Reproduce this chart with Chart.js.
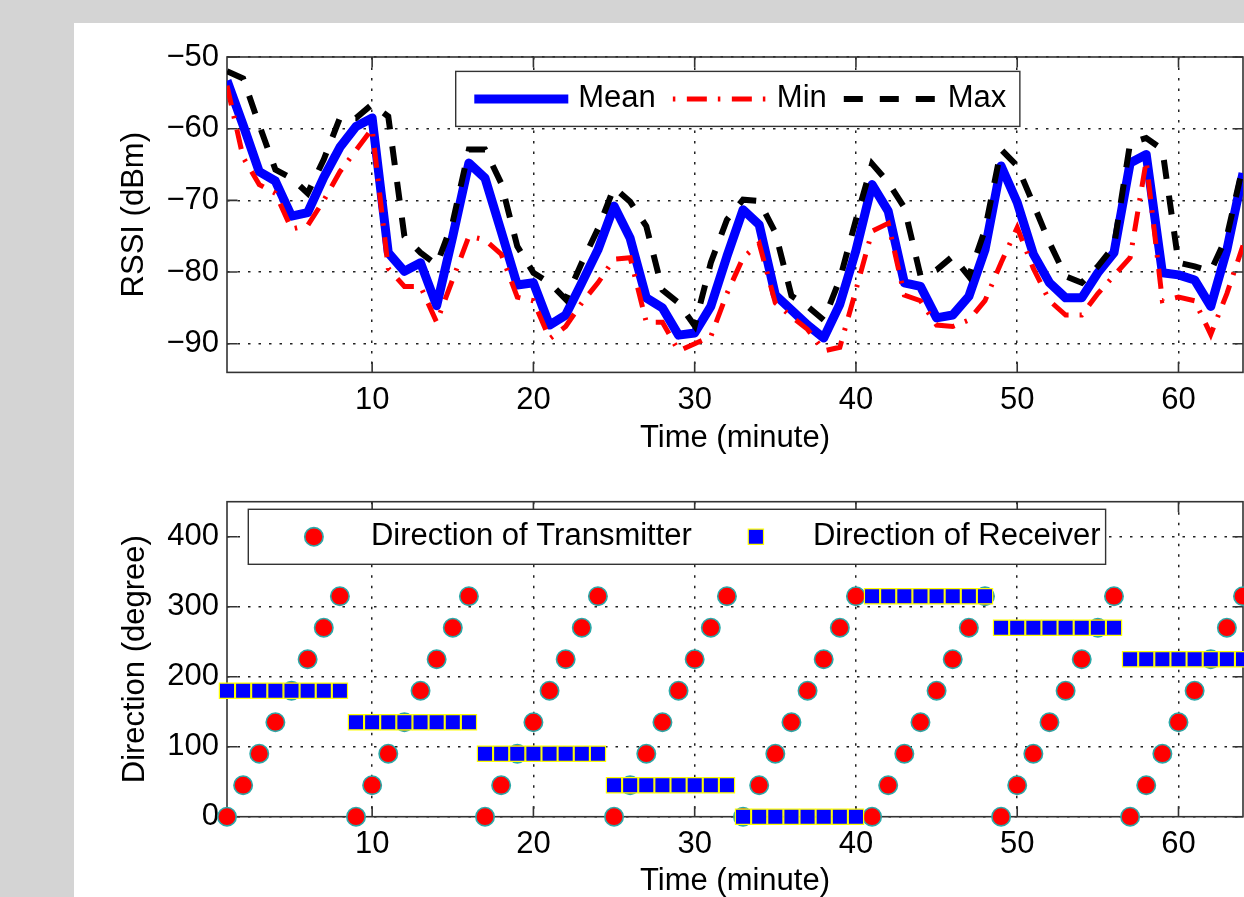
<!DOCTYPE html>
<html>
<head>
<meta charset="utf-8">
<title>RSSI and direction vs time</title>
<script src="https://cdn.jsdelivr.net/npm/chart.js@4.4.0/dist/chart.umd.min.js"></script>
<style>
  html, body { margin: 0; padding: 0; }
  body { width: 1244px; height: 897px; background: #d4d4d4; position: relative; overflow: hidden; }
  #panel { position: absolute; left: 74px; top: 23px; right: 0; bottom: 0; background: #fff; }
  canvas { position: absolute; left: 74px; }
  #rssiChart { top: 23px; }
  #dirChart { top: 468px; }
</style>
</head>
<body>
<div id="panel"></div>
<canvas id="rssiChart" width="1170" height="445"></canvas>
<canvas id="dirChart" width="1170" height="429"></canvas>
<script>
const minutes = [
    1, 2, 3, 4, 5, 6, 7, 8, 9, 10, 11, 12, 13, 14, 15, 16,
    17, 18, 19, 20, 21, 22, 23, 24, 25, 26, 27, 28, 29, 30, 31, 32,
    33, 34, 35, 36, 37, 38, 39, 40, 41, 42, 43, 44, 45, 46, 47, 48,
    49, 50, 51, 52, 53, 54, 55, 56, 57, 58, 59, 60, 61, 62, 63, 64,
];

// RSSI (dBm) per minute
const rssiMean = [
    -53.3, -59.5, -66, -67.3, -72.2, -71.7, -66.8, -62.6, -59.7, -58.5, -77.3, -79.9, -78.7, -84.7, -75, -64.8,
    -66.9, -74.3, -81.8, -81.5, -87.4, -86, -81.5, -76.9, -70.8, -75.3, -83.6, -85, -88.8, -88.5, -84.8, -77.8,
    -71.3, -73.4, -83.2, -85.3, -87.4, -89.2, -84.5, -77, -67.8, -71.5, -81.5, -82, -86.4, -86, -83.4, -76.9,
    -65.2, -70.3, -77.5, -81.5, -83.6, -83.6, -80.1, -77.3, -64.8, -63.6, -80.1, -80.4, -81.1, -84.8, -76.9, -66.2,
];
const rssiMin = [
    -54, -64, -67.8, -69, -74, -73.5, -70, -66, -63, -60, -79.5, -82, -82, -87, -81, -75,
    -75.5, -77.5, -83.5, -84, -89.3, -87.6, -84.3, -81.5, -78.2, -78, -87, -87, -91, -90, -89, -83,
    -78, -76, -84.3, -86.2, -88, -91, -90.5, -82.5, -74.3, -73.2, -83.2, -84, -87.4, -87.6, -86.7, -84,
    -78.7, -73.8, -79.5, -84, -86, -86, -83, -80.5, -78, -64.5, -84, -83.5, -84, -88.7, -83, -76.3,
];
const rssiMax = [
    -52, -53, -59.5, -65.7, -66.9, -69, -64.3, -58.5, -58.5, -56.6, -58.3, -75, -77.3, -79, -73, -62.9,
    -62.9, -67.6, -76.4, -80.1, -81.5, -83.8, -78.7, -74, -68.2, -70.2, -73.6, -82.5, -84.3, -87.5, -78.7, -72.7,
    -69.9, -70.1, -74.5, -83.3, -84.8, -86.7, -81, -72.7, -64.9, -67.5, -71, -80.5, -79.7, -77.8, -80.6, -74.1,
    -62.9, -65.2, -70.5, -75.9, -80.6, -81.5, -79.2, -76.4, -62, -61.3, -62.9, -78.7, -79.2, -79.9, -75, -65.2,
];

// direction (degree) per minute
const txDirection = [
    0, 45, 90, 135, 180, 225, 270, 315, 0, 45, 90, 135, 180, 225, 270, 315,
    0, 45, 90, 135, 180, 225, 270, 315, 0, 45, 90, 135, 180, 225, 270, 315,
    0, 45, 90, 135, 180, 225, 270, 315, 0, 45, 90, 135, 180, 225, 270, 315,
    0, 45, 90, 135, 180, 225, 270, 315, 0, 45, 90, 135, 180, 225, 270, 315,
];
const rxDirection = [
    180, 180, 180, 180, 180, 180, 180, 180, 135, 135, 135, 135, 135, 135, 135, 135,
    90, 90, 90, 90, 90, 90, 90, 90, 45, 45, 45, 45, 45, 45, 45, 45,
    0, 0, 0, 0, 0, 0, 0, 0, 315, 315, 315, 315, 315, 315, 315, 315,
    270, 270, 270, 270, 270, 270, 270, 270, 225, 225, 225, 225, 225, 225, 225, 225,
];

const timeTicks = [10, 20, 30, 40, 50, 60];
const rssiTicks = [-90, -80, -70, -60, -50];
const dirTicks = [0, 100, 200, 300, 400];

const FONT = "'Liberation Sans', Arial, Helvetica, sans-serif";
Chart.defaults.font.family = FONT;
Chart.defaults.color = "#000";

const toPoints = (ys) => minutes.map((m, i) => ({ x: m, y: ys[i] }));

// matlab style box with inward tick marks (drawn under the data)
const axesBox = {
    id: "axesBox",
    beforeDatasetsDraw(chart) {
        const { ctx, chartArea: a, scales } = chart;
        const len = 10.5;
        ctx.save();
        ctx.strokeStyle = "#333";
        ctx.lineWidth = 1.6;
        ctx.setLineDash([]);
        ctx.beginPath();
        scales.x.ticks.forEach((t) => {
            const px = scales.x.getPixelForValue(t.value);
            ctx.moveTo(px, a.top);
            ctx.lineTo(px, a.top + len);
            ctx.moveTo(px, a.bottom);
            ctx.lineTo(px, a.bottom - len);
        });
        scales.y.ticks.forEach((t) => {
            const py = scales.y.getPixelForValue(t.value);
            ctx.moveTo(a.left, py);
            ctx.lineTo(a.left + len, py);
            ctx.moveTo(a.right, py);
            ctx.lineTo(a.right - len, py);
        });
        ctx.stroke();
        ctx.strokeRect(a.left, a.top, a.width, a.height);
        ctx.restore();
    },
};

// legend drawn inside the axes, in a box
const boxLegend = {
    id: "boxLegend",
    afterDraw(chart, args, opts) {
        const { ctx, chartArea: a } = chart;
        const slot = 94, gap = 10, itemGap = 17, padL = 18.6, h = 55;
        ctx.save();
        ctx.font = "31px " + FONT;
        const items = opts.order.map((i) => chart.data.datasets[i]);
        let w = padL + opts.padRight;
        items.forEach((d, k) => {
            w += slot + gap + ctx.measureText(d.label).width + (k ? itemGap : 0);
        });
        const x0 = a.left + opts.dx;
        const y0 = a.top + opts.dy;
        const cy = y0 + h / 2;
        ctx.fillStyle = "#fff";
        ctx.fillRect(x0, y0, w, h);
        ctx.strokeStyle = "#333";
        ctx.lineWidth = 1.4;
        ctx.strokeRect(x0, y0, w, h);

        let x = x0 + padL;
        items.forEach((d) => {
            if (opts.markers) {
                const cx = x + slot / 2;
                ctx.fillStyle = d.pointBackgroundColor;
                ctx.strokeStyle = d.pointBorderColor;
                ctx.lineWidth = d.pointBorderWidth;
                ctx.beginPath();
                if (d.pointStyle === "rect") {
                    const s = d.pointRadius * Math.SQRT2;
                    ctx.rect(cx - s / 2, cy - s / 2, s, s);
                } else {
                    ctx.arc(cx, cy, d.pointRadius, 0, Math.PI * 2);
                }
                ctx.fill();
                ctx.stroke();
            } else {
                ctx.strokeStyle = d.borderColor;
                ctx.lineWidth = d.borderWidth;
                ctx.lineCap = "butt";
                ctx.setLineDash(d.borderDash || []);
                ctx.lineDashOffset = d.legendDashOffset || 0;
                ctx.beginPath();
                ctx.moveTo(x, cy);
                ctx.lineTo(x + slot, cy);
                ctx.stroke();
                ctx.setLineDash([]);
            }
            x += slot + gap;
            ctx.fillStyle = "#000";
            ctx.textBaseline = "middle";
            ctx.textAlign = "left";
            ctx.fillText(d.label, x, cy);
            x += ctx.measureText(d.label).width + itemGap;
        });
        ctx.restore();
    },
};

const gridStyle = { color: "#222", lineWidth: 1.5, drawTicks: false };
const borderStyle = { display: false, dash: [2.5, 8] };
const tickFont = { family: FONT, size: 31 };
const titleFont = { family: FONT, size: 31, lineHeight: 1 };
const minusLabel = (v) => (v < 0 ? "\u2212" + Math.abs(v) : String(v));

function timeAxis(height, bottomPad) {
    return {
        type: "linear",
        min: 1,
        max: 64,
        afterBuildTicks: (s) => {
            s.ticks = timeTicks.map((v) => ({ value: v }));
        },
        afterFit: (s) => {
            s.height = height;
        },
        grid: gridStyle,
        border: borderStyle,
        ticks: { font: tickFont, padding: 9, maxRotation: 0, autoSkip: false, color: "#000" },
        title: {
            display: true,
            text: "Time (minute)",
            color: "#000",
            font: titleFont,
            padding: { top: 0, bottom: bottomPad },
        },
    };
}

new Chart(document.getElementById("rssiChart"), {
    type: "line",
    data: {
        datasets: [
            {
                label: "Mean",
                data: toPoints(rssiMean),
                borderColor: "#0000ff",
                borderWidth: 9,
                borderJoinStyle: "round",
                pointRadius: 0,
                order: 2,
            },
            {
                label: "Min",
                data: toPoints(rssiMin),
                borderColor: "#ff0000",
                borderWidth: 5,
                borderDash: [20, 11, 2.5, 11.5],
                legendDashOffset: 31,
                pointRadius: 0,
                order: 1,
            },
            {
                label: "Max",
                data: toPoints(rssiMax),
                borderColor: "#000000",
                borderWidth: 6,
                borderDash: [19, 17],
                pointRadius: 0,
                order: 0,
            },
        ],
    },
    options: {
        responsive: false,
        animation: false,
        layout: { autoPadding: false, padding: { left: 0, right: 1, top: 34, bottom: 0 } },
        elements: { line: { tension: 0 } },
        scales: {
            x: timeAxis(95.6, 14.5),
            y: {
                min: -94,
                max: -50,
                afterBuildTicks: (s) => {
                    s.ticks = rssiTicks.map((v) => ({ value: v }));
                },
                afterFit: (s) => {
                    s.width = 153;
                },
                grid: gridStyle,
                border: borderStyle,
                ticks: { font: tickFont, padding: 8, color: "#000", callback: minusLabel },
                title: {
                    display: true,
                    text: "RSSI (dBm)",
                    color: "#000",
                    font: titleFont,
                    padding: { top: 44.5, bottom: 0 },
                },
            },
        },
        plugins: {
            legend: { display: false },
            tooltip: { enabled: false },
            boxLegend: { order: [0, 1, 2], dx: 228.7, dy: 14.4, padRight: 13.5, markers: false },
        },
    },
    plugins: [axesBox, boxLegend],
});

new Chart(document.getElementById("dirChart"), {
    type: "scatter",
    data: {
        datasets: [
            {
                label: "Direction of Transmitter",
                data: toPoints(txDirection),
                pointStyle: "circle",
                pointRadius: 9.2,
                pointBorderWidth: 1.6,
                pointBackgroundColor: "#ff0000",
                pointBorderColor: "#2aa9a9",
                clip: false,
                order: 1,
            },
            {
                label: "Direction of Receiver",
                data: toPoints(rxDirection),
                pointStyle: "rect",
                pointRadius: 10.8,
                pointBorderWidth: 1.2,
                pointBackgroundColor: "#0000ff",
                pointBorderColor: "#ffff00",
                clip: false,
                order: 0,
            },
        ],
    },
    options: {
        responsive: false,
        animation: false,
        layout: { autoPadding: false, padding: { left: 0, right: 1, top: 33.7, bottom: 0 } },
        scales: {
            x: timeAxis(80.3, 0),
            y: {
                min: 0,
                max: 450,
                afterBuildTicks: (s) => {
                    s.ticks = dirTicks.map((v) => ({ value: v }));
                },
                afterFit: (s) => {
                    s.width = 153;
                },
                grid: gridStyle,
                border: borderStyle,
                ticks: { font: tickFont, padding: 8, color: "#000" },
                title: {
                    display: true,
                    text: "Direction (degree)",
                    color: "#000",
                    font: titleFont,
                    padding: { top: 45.5, bottom: 0 },
                },
            },
        },
        plugins: {
            legend: { display: false },
            tooltip: { enabled: false },
            boxLegend: { order: [0, 1], dx: 21.3, dy: 7.6, padRight: 5, markers: true },
        },
    },
    plugins: [axesBox, boxLegend],
});
</script>
</body>
</html>
